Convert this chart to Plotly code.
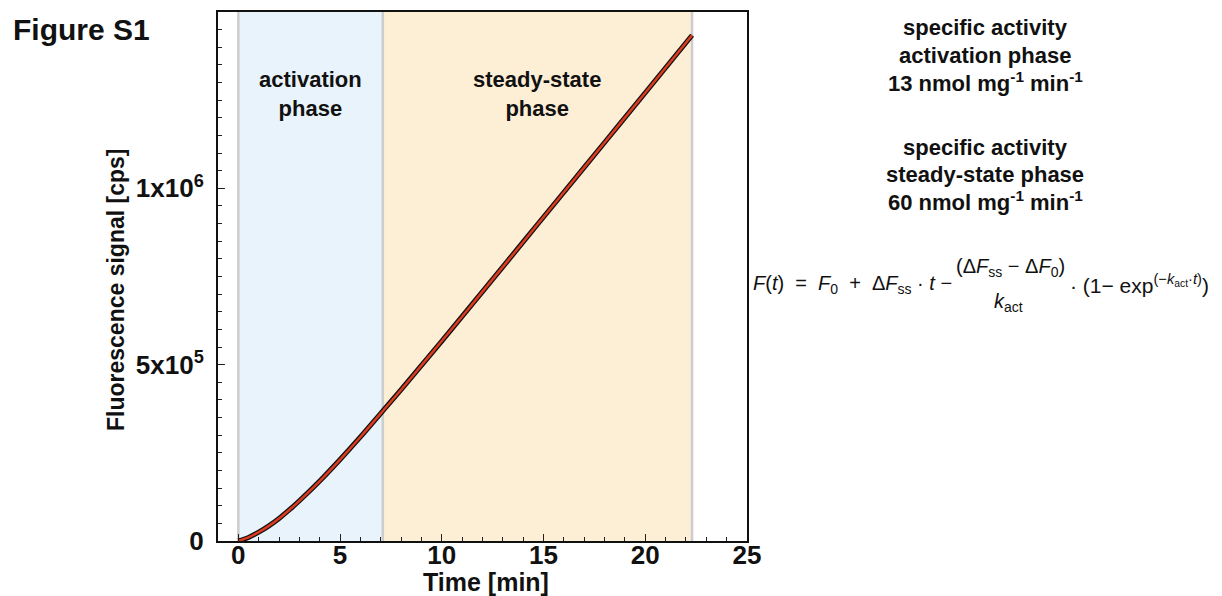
import plotly.graph_objects as go

# ---- data ----
time_min = [0, 0.5, 1, 1.5, 2, 2.5, 3, 4, 5, 6, 7, 8, 9, 10, 12, 14, 16, 18, 20, 22.3]
signal_cps = [0, 10e3, 25e3, 43e3, 64e3, 88e3, 114e3, 170e3, 231e3, 295e3, 362e3,
              429e3, 498e3, 567e3, 707e3, 848e3, 989e3, 1130e3, 1271e3, 1434e3]
phase_bounds = [0, 7.1, 22.3]
phase_labels = ["activation<br>phase", "steady-state<br>phase"]
phase_colors = ["#e8f3fb", "#fdeed6"]
y_tickvals = [0, 5e5, 1e6]
y_ticktext = ["0", "5x10<sup>5</sup>", "1x10<sup>6</sup>"]
x_tickvals = [0, 5, 10, 15, 20, 25]
activity_lines_1 = ["specific activity", "activation phase",
                    "13 nmol mg<sup>-1</sup> min<sup>-1</sup>"]
activity_lines_2 = ["specific activity", "steady-state phase",
                    "60 nmol mg<sup>-1</sup> min<sup>-1</sup>"]

FONT = "Liberation Sans, Arial, sans-serif"
INK = "#111111"

# page offset of the figure (browser body margin)
OFF = 8
W, H = 1222, 596
# plot-area geometry in page pixels
PL, PR, PT, PB = 218, 747, 12, 541


def ypaper(py):
    return (PB - py) / (PB - PT)


def xpaper(px):
    return (px - PL) / (PR - PL)


fig = go.Figure()
# raw data (black)
fig.add_trace(go.Scatter(x=time_min, y=signal_cps, mode="lines",
                         line=dict(color=INK, width=5, shape="spline"),
                         hoverinfo="skip", showlegend=False))
# fit (red)
fig.add_trace(go.Scatter(x=time_min, y=signal_cps, mode="lines",
                         line=dict(color="#dd3b20", width=2.5, shape="spline"),
                         showlegend=False))

shapes = []
for i in range(2):
    shapes.append(dict(type="rect", xref="x", yref="paper",
                       x0=phase_bounds[i], x1=phase_bounds[i + 1], y0=0, y1=1,
                       fillcolor=phase_colors[i], line=dict(width=0), layer="below"))
for xb in phase_bounds:
    shapes.append(dict(type="line", xref="x", yref="paper", x0=xb, x1=xb, y0=0, y1=1,
                       line=dict(color="#cdcdcd", width=2.5), layer="below"))

annotations = []
for i in range(2):
    annotations.append(dict(x=(phase_bounds[i] + phase_bounds[i + 1]) / 2, y=ypaper(94),
                            xref="x", yref="paper", yanchor="middle", showarrow=False,
                            text="<b>" + phase_labels[i] + "</b>",
                            font=dict(family=FONT, size=22, color=INK)))


def txt(px, py, text, size, xanchor="center", angle=0):
    annotations.append(dict(x=xpaper(px), y=ypaper(py), xref="paper", yref="paper",
                            xanchor=xanchor, yanchor="middle", showarrow=False,
                            textangle=angle, text=text,
                            font=dict(family=FONT, size=size, color=INK)))


txt(11, 30, "<b>Figure S1</b>", 30, xanchor="left")
txt(486, 582, "<b>Time [min]</b>", 25)
txt(116, 290, "<b>Fluorescence signal [cps]</b>", 23, angle=-90)

for k, line in enumerate(activity_lines_1):
    txt(985, 28 + 27 * k, "<b>" + line + "</b>", 22)
for k, line in enumerate(activity_lines_2):
    txt(985, 147 + 27 * k, "<b>" + line + "</b>", 22)

EQ = 20
txt(751, 284, "<i>F</i>(<i>t</i>)  =  <i>F</i><sub>0</sub>  +  Δ<i>F</i><sub>ss</sub> · <i>t</i> −",
    EQ, xanchor="left")
txt(1010, 267, "(Δ<i>F</i><sub>ss</sub> − Δ<i>F</i><sub>0</sub>)", EQ)
txt(1008, 302, "<i>k</i><sub>act</sub>", EQ)
txt(1211, 284, "· (1− exp<sup>(−<i>k</i><sub>act</sub>·<i>t</i>)</sup>)", 21, xanchor="right")

axis_common = dict(ticks="inside", ticklen=7, tickwidth=1.2, tickcolor="#222",
                   showline=True, linecolor=INK, linewidth=2, mirror=True,
                   showgrid=False, zeroline=False, automargin=False,
                   tickfont=dict(family=FONT, size=26, color=INK))

fig.update_layout(
    width=W, height=H,
    margin=dict(l=PL - OFF, r=W - (PR - OFF), t=PT - OFF, b=H - (PB - OFF)),
    plot_bgcolor="white", paper_bgcolor="white",
    shapes=shapes, annotations=annotations,
    font=dict(family=FONT, color=INK),
    xaxis=dict(range=[-1, 25], tickvals=x_tickvals, ticktext=["<b>%d</b>" % v for v in x_tickvals],
               minor=dict(dtick=1, ticks="inside", ticklen=4, tickcolor="#222", tickwidth=1),
               ticklabelstandoff=-10, **axis_common),
    yaxis=dict(range=[0, 1.5e6], tickvals=y_tickvals, ticktext=["<b>%s</b>" % t for t in y_ticktext],
               minor=dict(dtick=5e4, ticks="inside", ticklen=4, tickcolor="#222", tickwidth=1),
               ticklabelstandoff=7, **axis_common),
)

fig.write_html("out.html")
